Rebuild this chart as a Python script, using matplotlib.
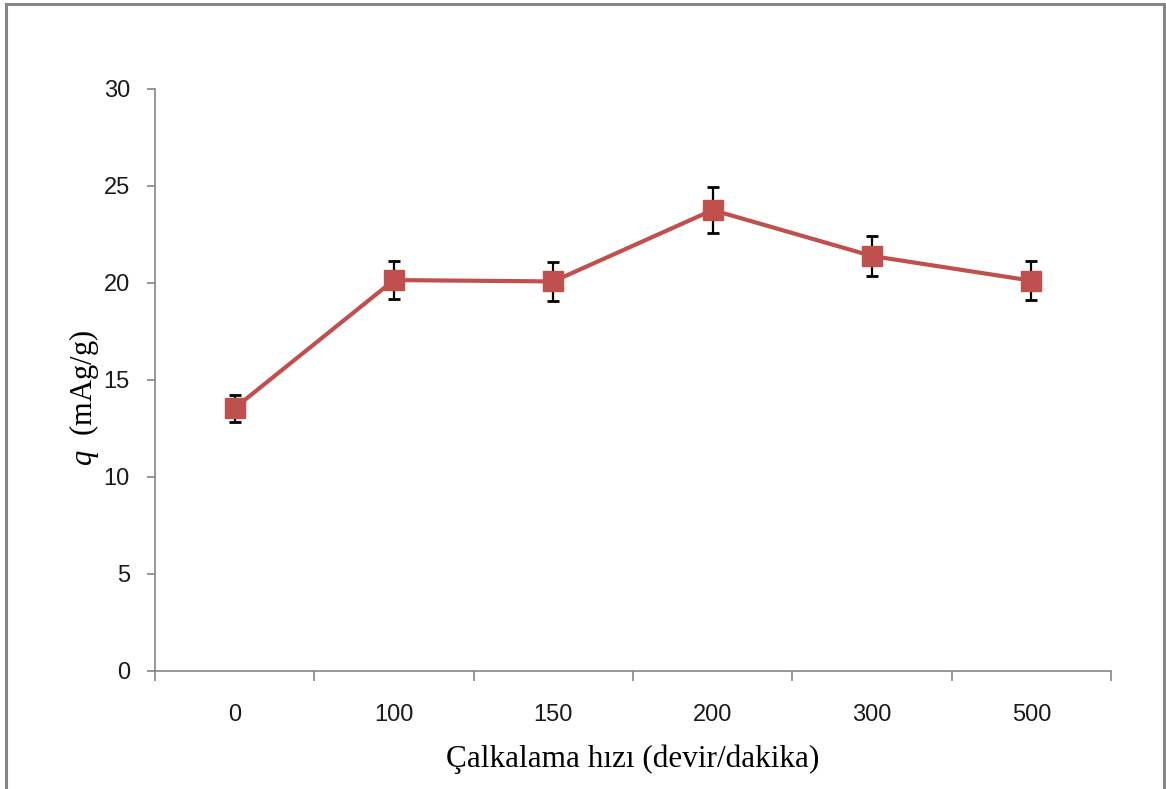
import numpy as np
import matplotlib
matplotlib.use('Agg')
from matplotlib import pyplot as plt
from matplotlib.lines import Line2D
from matplotlib.ticker import FixedLocator

# shaking speed (rpm) vs. silver uptake
speed_labels = ['0', '100', '150', '200', '300', '500']
uptake = [13.55, 20.15, 20.08, 23.76, 21.39, 20.12]
uptake_err = [0.7, 1.0, 1.0, 1.2, 1.05, 1.0]
y_ticks = [0, 5, 10, 15, 20, 25, 30]

RED = '#C0504D'
GREY = '#868686'

plt.rcParams['mathtext.fontset'] = 'custom'
plt.rcParams['mathtext.rm'] = 'Liberation Serif'
plt.rcParams['mathtext.it'] = 'Liberation Serif:italic'

fig = plt.figure(figsize=(11.66, 7.89), dpi=100)
ax = fig.add_axes([0.1329, 0.1496, 0.8199, 0.7376])

x = np.arange(len(speed_labels))
ax.errorbar(x, uptake, yerr=uptake_err, fmt='none', ecolor='black',
            elinewidth=1.6, capsize=4.5, capthick=2, zorder=2)
ax.plot(x, uptake, color=RED, linewidth=3, marker='s', markersize=14,
        markerfacecolor=RED, markeredgecolor=RED, zorder=3)

ax.set_xlim(-0.5, len(speed_labels) - 0.5)
ax.set_ylim(0, 30)

# category labels at centres, tick marks on the boundaries
ax.set_xticks(x)
ax.set_xticklabels(speed_labels)
ax.xaxis.set_minor_locator(FixedLocator(np.arange(-0.5, len(speed_labels), 1.0)))
ax.tick_params(axis='x', which='major', length=0, pad=24)
ax.tick_params(axis='x', which='minor', length=7, width=1.2, color=GREY, direction='out')
ax.set_yticks(y_ticks)
ax.tick_params(axis='y', length=6, width=1.2, color=GREY, direction='out', pad=12)

for lab in ax.get_xticklabels() + ax.get_yticklabels():
    lab.set_fontfamily('Liberation Sans')
    lab.set_fontsize(17)
    lab.set_color('#1a1a1a')

for side in ('top', 'right'):
    ax.spines[side].set_visible(False)
for side in ('left', 'bottom'):
    ax.spines[side].set_color(GREY)
    ax.spines[side].set_linewidth(1.2)

ax.text(0.5, -0.165, 'Çalkalama hızı (devir/dakika)', transform=ax.transAxes,
        ha='center', va='baseline', fontfamily='Liberation Serif', fontsize=22.5)
ax.text(-0.074, 0.469, r'$q$  (mAg/g)', transform=ax.transAxes, rotation=90,
        ha='center', va='center', fontfamily='Liberation Serif', fontsize=22)

# outer frame (left, top, right)
W, H = 1166, 789
frame = [((6 / W, 6 / W), (0, 1 - 4 / H)),
         ((6 / W, 1164 / W), (1 - 4 / H, 1 - 4 / H)),
         ((1164 / W, 1164 / W), (1 - 4 / H, 0))]
for xs, ys in frame:
    fig.add_artist(Line2D(xs, ys, transform=fig.transFigure, color=GREY, linewidth=2.2))

fig.savefig('out.png', dpi=100)
